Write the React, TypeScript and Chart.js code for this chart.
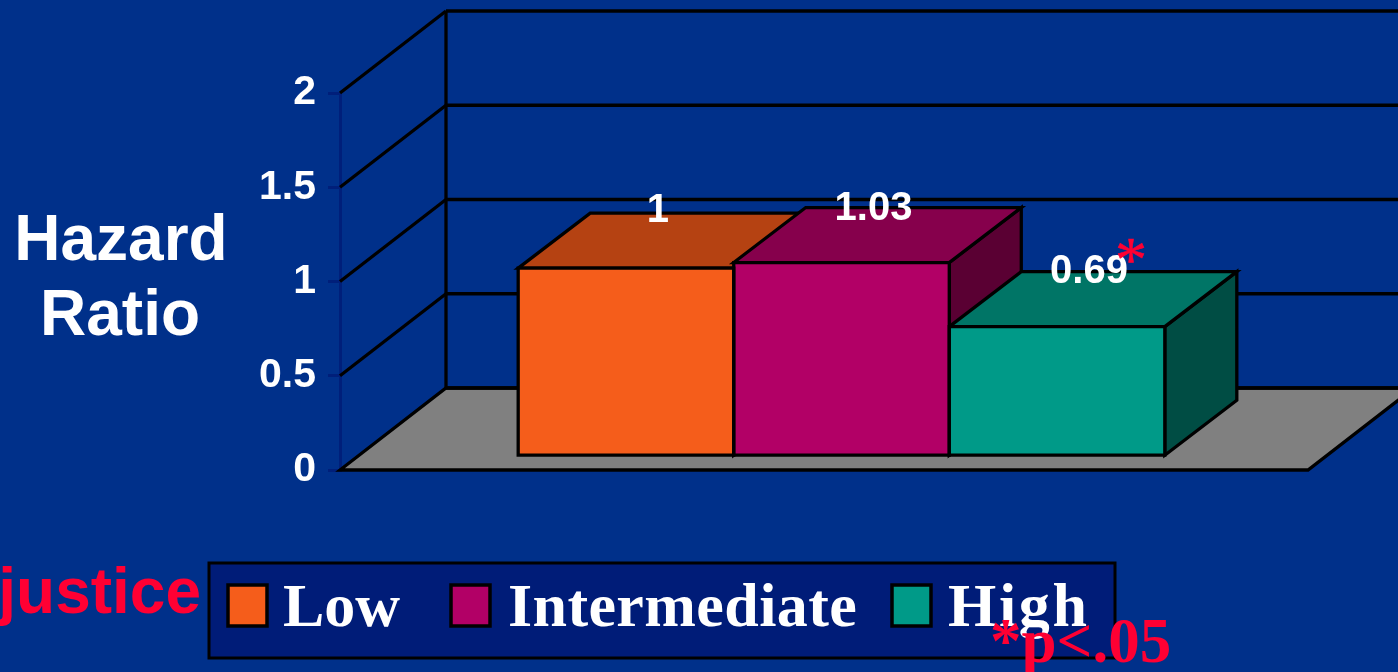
import React, { useEffect, useRef } from "react";
import { Chart, registerables } from "chart.js";

Chart.register(...registerables);

const WIDTH = 1398;
const HEIGHT = 672;

const categories = ["Hazard ratio"];
const justiceLevels = ["Low", "Intermediate", "High"];
const hazardRatios = [1, 1.03, 0.69];
const valueLabels = ["1", "1.03", "0.69"];
const yTicks = [0, 0.5, 1, 1.5, 2];
const yTickLabels = ["0", "0.5", "1", "1.5", "2"];

const frontColors = ["#F55D1B", "#B20066", "#009A88"];
const topColors = ["#B54212", "#86004C", "#007566"];
const sideColors = ["#8A3010", "#5A0033", "#004D44"];

const BG = "#00308A";
const AXIS = "#001F7A";
const LEGEND_BG = "#001C78";
const RED = "#FF0033";
const SANS = '"Liberation Sans"';
const SERIF = '"Liberation Serif"';
const EDGE = 3.3;

// Projection of the 3D box: wall depth, and the bars' position and depth within it.
const WALL = { dx: 106, dy: -82 };
const BAR_SHIFT = { dx: 17.5, dy: -13.3 };
const BAR_DEPTH = { dx: 72, dy: -55 };

function poly(ctx: CanvasRenderingContext2D, pts: number[][], fill: string | null) {
  ctx.beginPath();
  pts.forEach(([x, y], i) => (i ? ctx.lineTo(x, y) : ctx.moveTo(x, y)));
  ctx.closePath();
  if (fill) {
    ctx.fillStyle = fill;
    ctx.fill();
  }
  ctx.strokeStyle = "#000";
  ctx.lineWidth = EDGE;
  ctx.lineJoin = "miter";
  ctx.stroke();
}

function line(ctx: CanvasRenderingContext2D, x0: number, y0: number, x1: number, y1: number) {
  ctx.beginPath();
  ctx.moveTo(x0, y0);
  ctx.lineTo(x1, y1);
  ctx.strokeStyle = "#000";
  ctx.lineWidth = EDGE;
  ctx.stroke();
}

function barEdges(bar: any) {
  return {
    l: bar.x - bar.width / 2,
    r: bar.x + bar.width / 2,
    t: bar.y,
    b: bar.base,
  };
}

// Floor, back wall, slanted gridlines, then the bars' top and side faces.
// Chart.js fills the front faces next; their outlines follow, then the shift is undone.
const boxPlugin = {
  id: "box",
  beforeDatasetsDraw(chart: any) {
    const { ctx, chartArea: a, scales } = chart;
    const y = scales.y;
    const base = y.getPixelForValue(0);
    ctx.save();
    poly(
      ctx,
      [
        [a.left, base],
        [a.right, base],
        [a.right + WALL.dx, base + WALL.dy],
        [a.left + WALL.dx, base + WALL.dy],
      ],
      "#808080"
    );
    for (const t of yTicks) {
      const p = y.getPixelForValue(t);
      line(ctx, a.left + WALL.dx, p + WALL.dy, WIDTH + 2, p + WALL.dy);
      if (t > 0) line(ctx, a.left, p, a.left + WALL.dx, p + WALL.dy);
    }
    line(ctx, a.left + WALL.dx, y.getPixelForValue(2) + WALL.dy, a.left + WALL.dx, base + WALL.dy);

    ctx.translate(BAR_SHIFT.dx, BAR_SHIFT.dy);
    const { dx, dy } = BAR_DEPTH;
    justiceLevels.forEach((_, i) => {
      const { l, r, t, b } = barEdges(chart.getDatasetMeta(i).data[0]);
      poly(ctx, [[r, t], [r + dx, t + dy], [r + dx, b + dy], [r, b]], sideColors[i]);
      poly(ctx, [[l, t], [r, t], [r + dx, t + dy], [l + dx, t + dy]], topColors[i]);
    });
  },
  afterDatasetsDraw(chart: any) {
    const { ctx } = chart;
    justiceLevels.forEach((_, i) => {
      const { l, r, t, b } = barEdges(chart.getDatasetMeta(i).data[0]);
      poly(ctx, [[l, t], [r, t], [r, b], [l, b]], null);
    });
    ctx.restore();
  },
};

// Value labels, axis title, legend panel and the significance notes.
const annotationPlugin = {
  id: "annotations",
  afterDraw(chart: any) {
    const { ctx } = chart;
    ctx.save();
    ctx.textBaseline = "alphabetic";

    ctx.textAlign = "center";
    ctx.fillStyle = "#fff";
    ctx.font = `bold 40px ${SANS}`;
    const labelLift = [46, 43, 44];
    hazardRatios.forEach((_, i) => {
      const bar = chart.getDatasetMeta(i).data[0];
      ctx.fillText(valueLabels[i], bar.x + BAR_SHIFT.dx + 32, bar.y + BAR_SHIFT.dy - labelLift[i]);
    });

    ctx.fillStyle = RED;
    ctx.strokeStyle = RED;
    ctx.lineWidth = 0.6;
    ctx.font = `64px ${SERIF}`;
    ctx.fillText("*", 1131, 281);
    ctx.strokeText("*", 1131, 281);

    ctx.fillStyle = "#fff";
    ctx.font = `bold 64px ${SANS}`;
    ctx.fillText("Hazard", 121, 260);
    ctx.fillText("Ratio", 120, 335);

    ctx.textAlign = "right";
    ctx.fillStyle = RED;
    ctx.font = `bold 64px ${SANS}`;
    ctx.fillText("justice", 201, 613);

    ctx.fillStyle = LEGEND_BG;
    ctx.fillRect(209, 563, 906, 95);
    ctx.strokeStyle = "#000";
    ctx.lineWidth = 3;
    ctx.strokeRect(209, 563, 906, 95);

    const swatchX = [228, 451, 892];
    const textX = [283, 508, 948];
    const tracking = ["0px", "0.4px", "2.7px"];
    ctx.textAlign = "left";
    ctx.font = `bold 62px ${SERIF}`;
    justiceLevels.forEach((name, i) => {
      ctx.fillStyle = frontColors[i];
      ctx.fillRect(swatchX[i], 585, 39, 41);
      ctx.lineWidth = 3.5;
      ctx.strokeRect(swatchX[i], 585, 39, 41);
      ctx.fillStyle = "#fff";
      ctx.letterSpacing = tracking[i];
      ctx.fillText(name, textX[i], 626);
    });
    ctx.letterSpacing = "0px";

    ctx.fillStyle = RED;
    ctx.font = `bold 63px ${SERIF}`;
    ctx.fillText("*p<.05", 990, 662);
    ctx.restore();
  },
};

export default function App() {
  const ref = useRef<HTMLCanvasElement>(null);

  useEffect(() => {
    const chart = new Chart(ref.current as HTMLCanvasElement, {
      type: "bar",
      data: {
        labels: categories,
        datasets: justiceLevels.map((label, i) => ({
          label,
          data: [hazardRatios[i]],
          backgroundColor: frontColors[i],
          borderWidth: 0,
          clip: false as any,
        })),
      },
      options: {
        responsive: false,
        animation: false,
        layout: { padding: { left: 0, right: 90, top: 93, bottom: 202 } },
        datasets: { bar: { categoryPercentage: 0.668, barPercentage: 1 } },
        plugins: { legend: { display: false }, tooltip: { enabled: false } },
        scales: {
          x: { display: false },
          y: {
            min: 0,
            max: 2,
            afterFit(scale: any) {
              scale.width = 340;
            },
            afterBuildTicks(scale: any) {
              scale.ticks = yTicks.map((value) => ({ value }));
            },
            ticks: {
              color: "#fff",
              font: { family: "Liberation Sans", size: 41, weight: "bold" },
              padding: 12,
              callback: (_: any, i: number) => yTickLabels[i],
            },
            border: { color: AXIS, width: 3 },
            grid: { color: AXIS, lineWidth: 3, tickLength: 12, drawOnChartArea: false },
          },
        },
      },
      plugins: [boxPlugin, annotationPlugin],
    } as any);
    return () => chart.destroy();
  }, []);

  return (
    <div style={{ position: "fixed", left: 0, top: 0, width: WIDTH, height: HEIGHT, background: BG, overflow: "hidden" }}>
      <canvas ref={ref} width={WIDTH} height={HEIGHT} style={{ display: "block" }} />
    </div>
  );
}
